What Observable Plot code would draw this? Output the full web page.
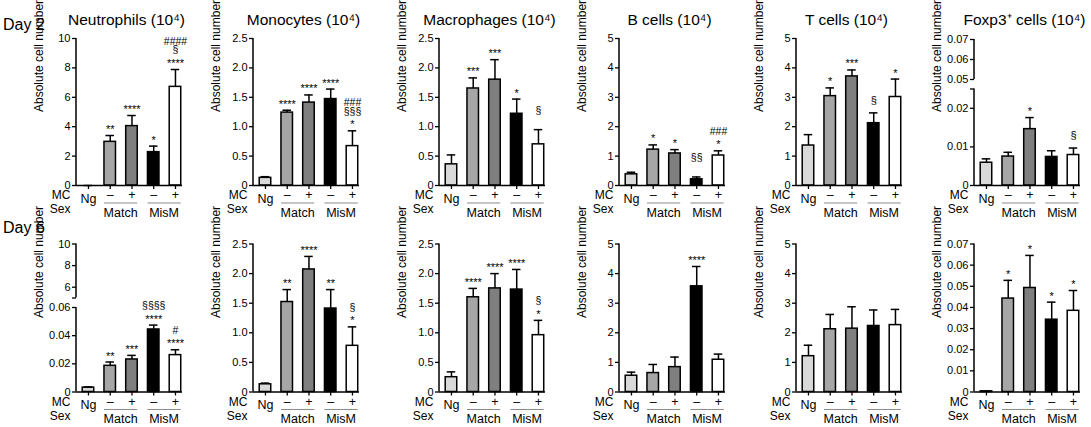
<!DOCTYPE html>
<html><head><meta charset="utf-8">
<script src="https://cdn.jsdelivr.net/npm/d3@7"></script>
<script src="https://cdn.jsdelivr.net/npm/@observablehq/plot@0.6"></script>
<style>
body { margin:0; background:#fff; color:#000; font-family:"Liberation Sans", Arial, sans-serif; }
#root { position:relative; width:1091px; height:427px; overflow:hidden; background:#fff; }
.panel { position:absolute; width:184px; height:220px; }
.day { position:absolute; left:3px; font-size:16px; line-height:16px; }
</style></head>
<body><div id="root"></div>
<script>
// ---------- data ----------
const cats = ["Ng", "Match–", "Match+", "MisM–", "MisM+"];
const mcLabels = ["Ng", "–", "+", "–", "+"];
const sexGroups = ["Match", "MisM"];
const titles = ["Neutrophils (10⁴)", "Monocytes (10⁴)", "Macrophages (10⁴)", "B cells (10⁴)", "T cells (10⁴)", "Foxp3⁺ cells (10⁴)"];
const days = ["Day 2", "Day 6"];
const barColors = ["#d9d9d9", "#a6a6a6", "#7f7f7f", "#000000", "#ffffff"];

// Day 2
const neut2Mean = [0, 2.97, 4.04, 2.27, 6.71];
const neut2Err  = [0, 3.40, 4.76, 2.68, 7.89];
const neut2Ann1 = ["", "**", "****", "*", "****"];
const neut2Ann2 = ["", "", "", "", "§"];
const neut2Ann3 = ["", "", "", "", "####"];

const mono2Mean = [0.13, 1.24, 1.41, 1.47, 0.67];
const mono2Err  = [0.15, 1.28, 1.54, 1.64, 0.93];
const mono2Ann1 = ["", "****", "****", "****", "*"];
const mono2Ann2 = ["", "", "", "", "§§§"];
const mono2Ann3 = ["", "", "", "", "###"];

const macro2Mean = [0.36, 1.65, 1.80, 1.22, 0.70];
const macro2Err  = [0.52, 1.83, 2.14, 1.47, 0.95];
const macro2Ann1 = ["", "***", "***", "*", ""];
const macro2Ann2 = ["", "", "", "", "§"];
const macro2Ann3 = ["", "", "", "", ""];

const b2Mean = [0.38, 1.22, 1.09, 0.21, 1.02];
const b2Err  = [0.45, 1.38, 1.22, 0.29, 1.18];
const b2Ann1 = ["", "*", "*", "", "*"];
const b2Ann2 = ["", "", "", "§§", "###"];
const b2Ann3 = ["", "", "", "", ""];

const t2Mean = [1.36, 3.04, 3.71, 2.12, 3.01];
const t2Err  = [1.73, 3.32, 3.93, 2.47, 3.62];
const t2Ann1 = ["", "*", "***", "§", "*"];
const t2Ann2 = ["", "", "", "", ""];
const t2Ann3 = ["", "", "", "", ""];

const foxp2Mean = [0.0059, 0.0075, 0.0146, 0.0074, 0.0079];
const foxp2Err  = [0.0069, 0.0086, 0.0176, 0.0090, 0.0097];
const foxp2Ann1 = ["", "", "*", "", "§"];
const foxp2Ann2 = ["", "", "", "", ""];
const foxp2Ann3 = ["", "", "", "", ""];

// Day 6
const neut6Mean = [0.0031, 0.0186, 0.0231, 0.0444, 0.0262];
const neut6Err  = [0.0036, 0.0213, 0.0260, 0.0475, 0.0300];
const neut6Ann1 = ["", "**", "***", "****", "****"];
const neut6Ann2 = ["", "", "", "§§§§", "#"];
const neut6Ann3 = ["", "", "", "", ""];

const mono6Mean = [0.13, 1.52, 2.07, 1.41, 0.78];
const mono6Err  = [0.15, 1.73, 2.29, 1.73, 1.10];
const mono6Ann1 = ["", "**", "****", "**", "*"];
const mono6Ann2 = ["", "", "", "", "§"];
const mono6Ann3 = ["", "", "", "", ""];

const macro6Mean = [0.25, 1.60, 1.75, 1.73, 0.96];
const macro6Err  = [0.34, 1.75, 2.00, 2.07, 1.21];
const macro6Ann1 = ["", "****", "****", "****", "*"];
const macro6Ann2 = ["", "", "", "", "§"];
const macro6Ann3 = ["", "", "", "", ""];

const b6Mean = [0.55, 0.64, 0.84, 3.57, 1.09];
const b6Err  = [0.67, 0.93, 1.18, 4.24, 1.28];
const b6Ann1 = ["", "", "", "****", ""];
const b6Ann2 = ["", "", "", "", ""];
const b6Ann3 = ["", "", "", "", ""];

const t6Mean = [1.21, 2.12, 2.14, 2.23, 2.26];
const t6Err  = [1.58, 2.62, 2.88, 2.77, 2.79];
const t6Ann1 = ["", "", "", "", ""];
const t6Ann2 = ["", "", "", "", ""];
const t6Ann3 = ["", "", "", "", ""];

const foxp6Mean = [0.0003, 0.0442, 0.0492, 0.0342, 0.0384];
const foxp6Err  = [0.0004, 0.0528, 0.0646, 0.0425, 0.0480];
const foxp6Ann1 = ["", "*", "*", "*", "*"];
const foxp6Ann2 = ["", "", "", "", ""];
const foxp6Ann3 = ["", "", "", "", ""];

// tick values and labels
const ticksNeut = [0, 2, 4, 6, 8, 10];
const labelsNeut = ["0", "2", "4", "6", "8", "10"];
const ticksMono = [0, 0.5, 1, 1.5, 2, 2.5];
const labelsMono = ["0", "0.5", "1.0", "1.5", "2.0", "2.5"];
const ticksFive = [0, 1, 2, 3, 4, 5];
const labelsFive = ["0", "1", "2", "3", "4", "5"];
const ticksFoxpBroken = [0, 0.01, 0.02, 0.025, 0.05, 0.06, 0.07];
const labelsFoxpBroken = ["0", "0.01", "0.02", "", "0.05", "0.06", "0.07"];
const ticksFoxp = [0, 0.01, 0.02, 0.03, 0.04, 0.05, 0.06, 0.07];
const labelsFoxp = ["0", "0.01", "0.02", "0.03", "0.04", "0.05", "0.06", "0.07"];
const ticksNeutBroken = [0, 0.02, 0.04, 0.06, 5, 6, 8, 10];
const labelsNeutBroken = ["0", "0.02", "0.04", "0.06", "", "6", "8", "10"];
// broken-axis value breakpoints
const foxp2Breaks = [0, 0.025, 0.05, 0.07];
const neut6Breaks = [0, 0.06, 5, 10];

// ---------- layout ----------
const AX = [76, 253, 439, 619, 796, 974];
const ROWTOP = [0, 207];
const ROWM = [{top: 38, bottom: 35}, {top: 36.5, bottom: 35.5}];
const PW = 184, PH = 220, ML = 70, MR = 8;
const FONT = "'Liberation Sans', Arial, Helvetica, sans-serif";
// display positions (px above baseline) of the break points on broken axes
const foxp2Display = [0, 96.5, 106, 146];
const neut6Display = [0, 84.5, 94, 148];

const panels = [
  {row:0, col:0, mean:neut2Mean, err:neut2Err, ann:[neut2Ann1,neut2Ann2,neut2Ann3], ticks:ticksNeut, labels:labelsNeut, domain:[0,10], segs:[[0,10]]},
  {row:0, col:1, mean:mono2Mean, err:mono2Err, ann:[mono2Ann1,mono2Ann2,mono2Ann3], ticks:ticksMono, labels:labelsMono, domain:[0,2.5], segs:[[0,2.5]]},
  {row:0, col:2, mean:macro2Mean, err:macro2Err, ann:[macro2Ann1,macro2Ann2,macro2Ann3], ticks:ticksMono, labels:labelsMono, domain:[0,2.5], segs:[[0,2.5]]},
  {row:0, col:3, mean:b2Mean, err:b2Err, ann:[b2Ann1,b2Ann2,b2Ann3], ticks:ticksFive, labels:labelsFive, domain:[0,5], segs:[[0,5]]},
  {row:0, col:4, mean:t2Mean, err:t2Err, ann:[t2Ann1,t2Ann2,t2Ann3], ticks:ticksFive, labels:labelsFive, domain:[0,5], segs:[[0,5]]},
  {row:0, col:5, mean:foxp2Mean, err:foxp2Err, ann:[foxp2Ann1,foxp2Ann2,foxp2Ann3], ticks:ticksFoxpBroken, labels:labelsFoxpBroken,
    brk: d3.scaleLinear().domain(foxp2Breaks).range(foxp2Display), domain:[0,147], segs:[[0,0.025],[0.05,0.07]]},
  {row:1, col:0, mean:neut6Mean, err:neut6Err, ann:[neut6Ann1,neut6Ann2,neut6Ann3], ticks:ticksNeutBroken, labels:labelsNeutBroken,
    brk: d3.scaleLinear().domain(neut6Breaks).range(neut6Display), domain:[0,148], segs:[[0,0.06],[5,10]]},
  {row:1, col:1, mean:mono6Mean, err:mono6Err, ann:[mono6Ann1,mono6Ann2,mono6Ann3], ticks:ticksMono, labels:labelsMono, domain:[0,2.5], segs:[[0,2.5]]},
  {row:1, col:2, mean:macro6Mean, err:macro6Err, ann:[macro6Ann1,macro6Ann2,macro6Ann3], ticks:ticksMono, labels:labelsMono, domain:[0,2.5], segs:[[0,2.5]]},
  {row:1, col:3, mean:b6Mean, err:b6Err, ann:[b6Ann1,b6Ann2,b6Ann3], ticks:ticksFive, labels:labelsFive, domain:[0,5], segs:[[0,5]]},
  {row:1, col:4, mean:t6Mean, err:t6Err, ann:[t6Ann1,t6Ann2,t6Ann3], ticks:ticksFive, labels:labelsFive, domain:[0,5], segs:[[0,5]]},
  {row:1, col:5, mean:foxp6Mean, err:foxp6Err, ann:[foxp6Ann1,foxp6Ann2,foxp6Ann3], ticks:ticksFoxp, labels:labelsFoxp, domain:[0,0.07], segs:[[0,0.07]]},
];

const root = document.getElementById("root");

// y-axis line segments (axis may be broken)
function yAxisLine(segs, yv) {
  return (index, scales, values, dims) => {
    const g = d3.create("svg:g");
    for (const [a, b] of segs) {
      g.append("line")
        .attr("x1", dims.marginLeft).attr("x2", dims.marginLeft)
        .attr("y1", scales.y(yv(a))).attr("y2", scales.y(yv(b)))
        .attr("stroke", "#000").attr("stroke-width", 1.5);
    }
    return g.node();
  };
}

// Sex group underline + label
function sexLabels(groups) {
  return (index, scales, values, dims) => {
    const x = scales.x;
    const bw = typeof x.bandwidth === "function" ? x.bandwidth() : (x.bandwidth || 0);
    const base = dims.height - dims.marginBottom;
    const g = d3.create("svg:g");
    for (const grp of groups) {
      const x1 = x(grp.from), x2 = x(grp.to) + bw;
      g.append("line").attr("x1", x1).attr("x2", x2)
        .attr("y1", base + 18).attr("y2", base + 18)
        .attr("stroke", "#8c8c8c").attr("stroke-width", 1.2);
      g.append("text").attr("x", (x1 + x2) / 2).attr("y", base + 27.5)
        .attr("dy", "0.35em").attr("text-anchor", "middle")
        .attr("font-size", 12.5).attr("fill", "#000").text(grp.label);
    }
    return g.node();
  };
}

for (const p of panels) {
  const yv = p.brk ? p.brk : (v => v);
  const rows = cats.map((c, i) => ({cat: c, mean: p.mean[i], err: p.err[i],
    a1: p.ann[0][i], a2: p.ann[1][i], a3: p.ann[2][i], mc: mcLabels[i]}));
  const m = ROWM[p.row];
  const tv = p.ticks.map(yv);
  const isStars = s => /^\*+$/.test(s);
  const Y = d => yv(d.mean), E = d => yv(d.err);
  const marks = [
    Plot.barY(rows, {x: "cat", y: Y, fill: "cat", stroke: "#000", strokeWidth: 1.5}),
    Plot.ruleX(rows, {x: "cat", y1: Y, y2: E, stroke: "#000", strokeWidth: 1.5}),
    Plot.tickY(rows, {x: "cat", y: E, stroke: "#000", strokeWidth: 1.5, insetLeft: 1.5, insetRight: 1.5}),
    Plot.ruleY([0], {y: d => yv(d), stroke: "#000", strokeWidth: 1.5}),
    yAxisLine(p.segs, yv),
    Plot.axisY({ticks: tv, tickFormat: d => p.labels[tv.indexOf(d)], tickSize: 4, tickPadding: 2,
      strokeWidth: 1.3, fontSize: 11, label: null}),
    Plot.axisX({tickSize: 4, strokeWidth: 1.3, fill: "none", label: null}),
    // significance annotations
    Plot.text(rows.filter(d => isStars(d.a1)), {x: "cat", y: E, text: "a1", dy: -6, fontSize: 11}),
    Plot.text(rows.filter(d => d.a1 && !isStars(d.a1)), {x: "cat", y: E, text: "a1", dy: -12.5, fontSize: 11}),
    Plot.text(rows.filter(d => d.a2), {x: "cat", y: E, text: "a2", dy: -19.5, fontSize: 10.5}),
    Plot.text(rows.filter(d => d.a3), {x: "cat", y: E, text: "a3", dy: -28, fontSize: 10.5}),
    // y label
    Plot.text(["Absolute cell number"], {frameAnchor: "left", rotate: -90, dx: -37, fontSize: 12}),
    // MC row
    Plot.text(rows.filter(d => d.cat !== "Ng"), {x: "cat", text: "mc", frameAnchor: "bottom", dy: 13.5, fontSize: 12.5}),
    Plot.text(rows.filter(d => d.cat === "Ng"), {x: "cat", text: "mc", frameAnchor: "bottom", dy: 17, fontSize: 12.5}),
    Plot.text(["MC"], {frameAnchor: "bottom-left", dx: -6, dy: 13.5, textAnchor: "end", fontSize: 12}),
    Plot.text(["Sex"], {frameAnchor: "bottom-left", dx: -6, dy: 27.5, textAnchor: "end", fontSize: 12}),
    sexLabels([{label: sexGroups[0], from: cats[1], to: cats[2]}, {label: sexGroups[1], from: cats[3], to: cats[4]}]),
  ];
  if (p.row === 0) {
    marks.push(Plot.text([titles[p.col]], {frameAnchor: "top", dx: -3, dy: -(m.top - 13), fontSize: 15.5}));
  }
  const chart = Plot.plot({
    width: PW, height: PH,
    marginLeft: ML, marginRight: MR, marginTop: m.top, marginBottom: m.bottom,
    x: {type: "band", domain: cats, paddingInner: 0.47, paddingOuter: 0.172, align: 0.83, round: false, axis: null},
    y: {domain: p.domain, axis: null},
    color: {domain: cats, range: barColors},
    style: {background: "none", overflow: "visible", fontFamily: FONT, fontSize: "12px", color: "#000"},
    marks
  });
  const div = document.createElement("div");
  div.className = "panel";
  div.style.left = (AX[p.col] - ML) + "px";
  div.style.top = ROWTOP[p.row] + "px";
  div.appendChild(chart);
  root.appendChild(div);
}

// Day labels
[17, 220].forEach((top, i) => {
  const d = document.createElement("div");
  d.className = "day";
  d.style.top = top + "px";
  d.textContent = days[i];
  root.appendChild(d);
});
</script>
</body></html>
